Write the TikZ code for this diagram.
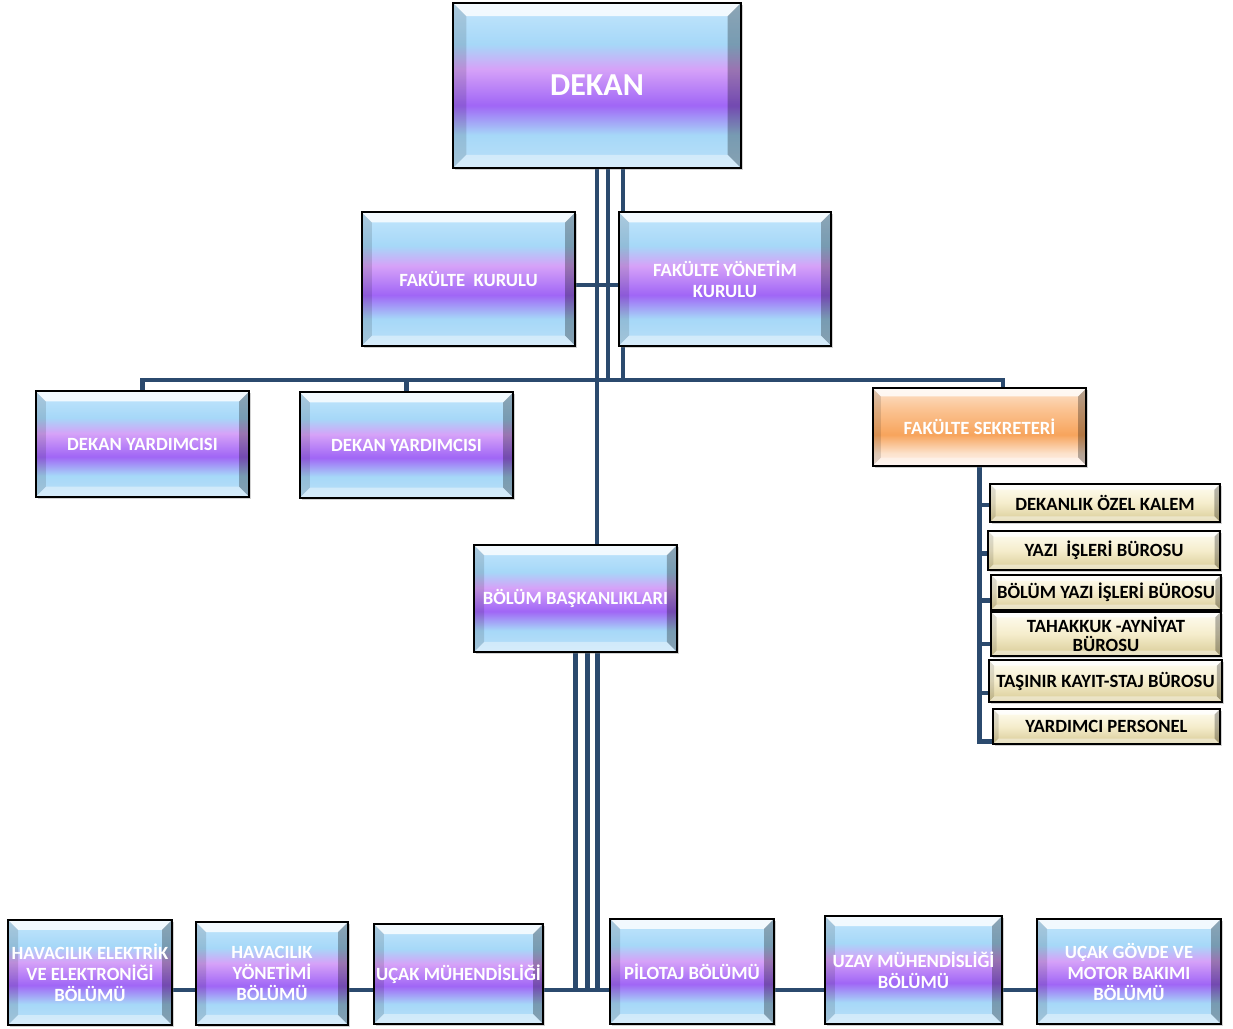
\documentclass[tikz,border=0pt]{standalone}
\usepackage{fontspec}
\setmainfont{Carlito}
\usetikzlibrary{calc,shadows,backgrounds}

\definecolor{linkblue}{HTML}{2B4A6E}
\definecolor{gbTop}{HTML}{C4E6FC}
\definecolor{gbLight}{HTML}{A6D8F8}
\definecolor{gbPink}{HTML}{D6A2F8}
\definecolor{gbViolet}{HTML}{A066F6}
\definecolor{gbEdge}{HTML}{BCE0F8}
\definecolor{orTop}{HTML}{FCE2CC}
\definecolor{orMid}{HTML}{FBC494}
\definecolor{orDeep}{HTML}{F7A45C}
\definecolor{orEdge}{HTML}{FFF0EA}
\definecolor{crTop}{HTML}{FFFDF2}
\definecolor{crMid}{HTML}{F5EDCC}
\definecolor{crEdge}{HTML}{D8CB96}

\pgfdeclareverticalshading{glassblue}{100bp}{color(0bp)=(gbEdge); color(25bp)=(gbEdge); color(35bp)=(gbLight); color(44bp)=(gbViolet); color(55bp)=(gbPink); color(62.5bp)=(gbLight); color(75bp)=(gbTop); color(100bp)=(gbTop)}
\pgfdeclareverticalshading{glassorange}{100bp}{color(0bp)=(orEdge); color(25bp)=(orEdge); color(33bp)=(orTop); color(45bp)=(orDeep); color(62bp)=(orMid); color(75bp)=(orTop); color(100bp)=(orTop)}
\pgfdeclareverticalshading{glasscream}{100bp}{color(0bp)=(crEdge); color(25bp)=(crEdge); color(50bp)=(crMid); color(75bp)=(crTop); color(100bp)=(crTop)}

% bevel on a box, #1 = depth of the rim
\newcommand\bevelpic[1]{%
	\fill[white,opacity=.8] (path picture bounding box.north west) -- (path picture bounding box.north east)
		-- ([xshift=-#1,yshift=-#1]path picture bounding box.north east) -- ([xshift=#1,yshift=-#1]path picture bounding box.north west) -- cycle;
	\fill[black,opacity=.28] (path picture bounding box.north east) -- (path picture bounding box.south east)
		-- ([xshift=-#1,yshift=#1]path picture bounding box.south east) -- ([xshift=-#1,yshift=-#1]path picture bounding box.north east) -- cycle;
	\fill[black,opacity=.12] (path picture bounding box.north west) -- (path picture bounding box.south west)
		-- ([xshift=#1,yshift=#1]path picture bounding box.south west) -- ([xshift=#1,yshift=-#1]path picture bounding box.north west) -- cycle;
	\fill[white,opacity=.4] (path picture bounding box.south west) -- (path picture bounding box.south east)
		-- ([xshift=-#1,yshift=#1]path picture bounding box.south east) -- ([xshift=#1,yshift=#1]path picture bounding box.south west) -- cycle;
}

\begin{document}
\begin{tikzpicture}[x=0.75pt, y=-0.75pt,
	box/.style={rectangle, draw=black, line width=1.3pt, align=center, inner sep=1pt,
		drop shadow={shadow xshift=1.5pt, shadow yshift=-1.5pt, opacity=.35},
		font=\fontsize{14}{15.75}\selectfont\bfseries},
	unit/.style={box, shading=glassblue, text=white, path picture={\bevelpic{7.5pt}}},
	secr/.style={box, shading=glassorange, text=white, path picture={\bevelpic{6pt}}},
	office/.style={box, shading=glasscream, text=black, minimum width=172pt, path picture={\bevelpic{4pt}}},
	link/.style={draw=linkblue, line width=3.2pt}]

	\useasboundingbox (0,0) rectangle (1233,1029);

	%––––– row 1 –––––
	\node[unit, minimum width=216pt, minimum height=124pt, path picture={\bevelpic{10pt}},
		font=\fontsize{24}{28}\selectfont\bfseries] (dekan) at (597,85.5) {DEKAN};

	%––––– row 2 –––––
	\node[unit, minimum width=160pt, minimum height=100pt] (fk) at (468.5,279) {FAKÜLTE\ \ KURULU};
	\node[unit, minimum width=159pt, minimum height=100pt] (fyk) at (725,279) {FAKÜLTE YÖNETİM\\KURULU};

	%––––– row 3 –––––
	\node[unit, minimum width=160pt, minimum height=79pt] (dy1) at (142.5,444) {DEKAN YARDIMCISI};
	\node[unit, minimum width=160pt, minimum height=79pt] (dy2) at (406.5,445) {DEKAN YARDIMCISI};
	\node[secr, minimum width=160pt, minimum height=58pt] (fs) at (979.5,427) {FAKÜLTE SEKRETERİ};

	%––––– secretary offices –––––
	\node[office, minimum height=28pt] (o1) at (1105,503) {DEKANLIK ÖZEL KALEM};
	\node[office, minimum height=29pt, minimum width=174pt] (o2) at (1104,550.5) {YAZI\ \ İŞLERİ BÜROSU};
	\node[office, minimum height=26pt] (o3) at (1106,592.5) {BÖLÜM YAZI İŞLERİ BÜROSU};
	\node[office, minimum height=33pt, font=\fontsize{14}{14.5}\selectfont\bfseries] (o4) at (1106,634) {TAHAKKUK -AYNİYAT\\BÜROSU};
	\node[office, minimum height=31pt, minimum width=175pt] (o5) at (1105.5,681) {TAŞINIR KAYIT-STAJ BÜROSU};
	\node[office, minimum height=26pt, minimum width=170pt] (o6) at (1106.5,726.5) {YARDIMCI PERSONEL};

	%––––– row 4 –––––
	\node[unit, minimum width=152pt, minimum height=80pt] (bolum) at (575.5,598.5) {BÖLÜM BAŞKANLIKLARI};

	%––––– departments –––––
	\node[unit, minimum width=123pt, minimum height=79pt] (b1) at (90,972.5) {HAVACILIK ELEKTRİK\\VE ELEKTRONİĞİ\\BÖLÜMÜ};
	\node[unit, minimum width=114pt, minimum height=77pt] (b2) at (272,973.5) {HAVACILIK\\YÖNETİMİ\\BÖLÜMÜ};
	\node[unit, minimum width=127pt, minimum height=75pt] (b3) at (458.5,974) {UÇAK MÜHENDİSLİĞİ};
	\node[unit, minimum width=123pt, minimum height=79pt] (b4) at (692,971.5) {PİLOTAJ BÖLÜMÜ};
	\node[unit, minimum width=133pt, minimum height=81pt] (b5) at (913.5,970) {UZAY MÜHENDİSLİĞİ\\BÖLÜMÜ};
	\node[unit, minimum width=138pt, minimum height=79pt] (b6) at (1129,971.5) {UÇAK GÖVDE VE\\MOTOR BAKIMI\\BÖLÜMÜ};

	\begin{scope}[on background layer]
		\fill[white] (0,0) rectangle (1233,1029);
		\coordinate (bus) at (0,380);
		\coordinate (fsin) at ($(fs.north)+(23.5,0)$);
		\draw[link] (dekan.south) -- (dekan.south |- bolum.north);
		\draw[link] ($(dekan.south)+(11,0)$) coordinate (d2) -- (d2 |- bus);
		\draw[link] ($(dekan.south)+(26,0)$) coordinate (d3) -- (d3 |- bus);
		\draw[link] (dy1.north) -- (dy1.north |- bus) -- (fsin |- bus) -- (fsin);
		\draw[link] (dy2.north) -- (dy2.north |- bus);
		\draw[link] ($(fk.east)+(0,6)$) -- ($(fyk.west)+(0,6)$);

		% secretary to offices
		\foreach \o/\d in {o1/2,o2/3,o3/8,o4/10,o5/12,o6/15}
			\coordinate (\o-t) at ($(\o.west)+(0,\d)$);
		\draw[link] (fs.south) -- (fs.south |- o6-t) -- (o6-t);
		\foreach \o in {o1,o2,o3,o4,o5}
			\draw[link] (fs.south |- \o-t) -- (\o-t);

		% heads to departments
		\coordinate (bbus) at (0,990);
		\foreach \dx in {0,12,22}
			\draw[link] ($(bolum.south)+(\dx,0)$) coordinate (bb) -- (bb |- bbus);
		\draw[link] (b1.east |- bbus) -- (b6.west |- bbus);
	\end{scope}
\end{tikzpicture}
\end{document}
